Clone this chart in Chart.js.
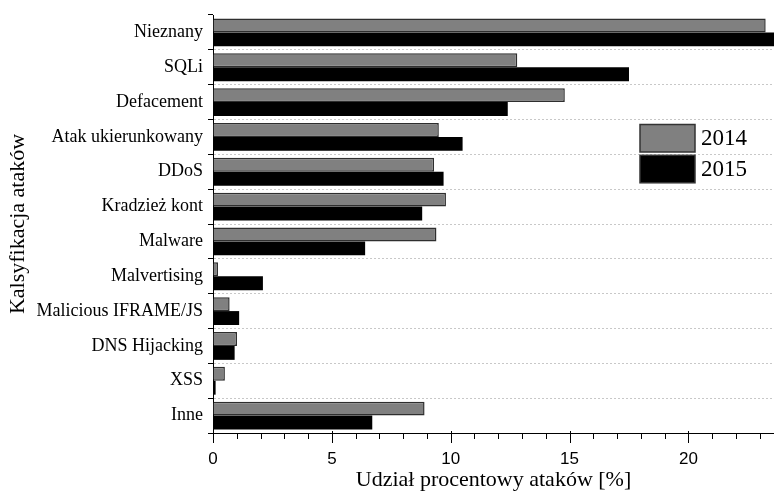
<!DOCTYPE html>
<html>
<head>
<meta charset="utf-8">
<script src="https://cdn.jsdelivr.net/npm/chart.js@4/dist/chart.umd.min.js"></script>
<style>
  html, body { margin: 0; padding: 0; background: #fff; }
  #wrap { width: 774px; height: 493px; position: relative; }
</style>
</head>
<body>
<div id="wrap"><canvas id="c" width="774" height="493"></canvas></div>
<script>
// Attack classes and their share of all attacks [%] in two years
const categories = [
  'Nieznany', 'SQLi', 'Defacement', 'Atak ukierunkowany', 'DDoS',
  'Kradzież kont', 'Malware', 'Malvertising', 'Malicious IFRAME/JS',
  'DNS Hijacking', 'XSS', 'Inne'
];
const share2014 = [23.25, 12.8, 14.8, 9.5, 9.3, 9.8, 9.4, 0.21, 0.7, 1.01, 0.5, 8.9];
const share2015 = [23.8, 17.5, 12.4, 10.5, 9.7, 8.8, 6.4, 2.1, 1.1, 0.91, 0.11, 6.7];
const seriesLabels = ['2014', '2015'];
const xTickLabels = [0, 5, 10, 15, 20];
const xMax = 23.6;

const SERIF = '"Liberation Serif", "Times New Roman", serif';
const SANS = '"Liberation Sans", Arial, sans-serif';

// Major/minor tick marks on the value axis
const valueAxisTicks = {
  id: 'valueAxisTicks',
  afterDraw(chart) {
    const s = chart.scales.x;
    const ctx = chart.ctx;
    ctx.save();
    ctx.strokeStyle = '#000';
    ctx.lineWidth = 1;
    ctx.beginPath();
    for (let v = 0; v <= Math.floor(s.max); v++) {
      const x = Math.round(s.getPixelForValue(v)) + 0.5;
      const major = xTickLabels.includes(v);
      ctx.moveTo(x, s.top - (major ? 2 : 0));
      ctx.lineTo(x, s.top + (major ? 10 : 6));
    }
    ctx.stroke();
    ctx.restore();
  }
};

// Boxed legend inside the plot area
const boxLegend = {
  id: 'boxLegend',
  afterDatasetsDraw(chart) {
    const ctx = chart.ctx;
    ctx.save();
    chart.data.datasets.forEach((ds, i) => {
      const x = 640, y = 124.5 + i * 30.8, w = 55, h = 27.5;
      ctx.fillStyle = ds.backgroundColor;
      ctx.fillRect(x, y, w, h);
      ctx.strokeStyle = '#333';
      ctx.lineWidth = 1.5;
      ctx.strokeRect(x, y, w, h);
      ctx.fillStyle = '#000';
      ctx.font = '23px ' + SERIF;
      ctx.textAlign = 'left';
      ctx.textBaseline = 'middle';
      ctx.fillText(ds.label, x + 61, y + h / 2 + 1);
    });
    ctx.restore();
  }
};

new Chart(document.getElementById('c'), {
  type: 'bar',
  data: {
    labels: categories,
    datasets: [
      {
        label: seriesLabels[0],
        data: share2014,
        backgroundColor: '#808080',
        borderColor: '#2e2e2e',
        borderWidth: 1.5,
        categoryPercentage: 0.8,
        barPercentage: 1.0
      },
      {
        label: seriesLabels[1],
        data: share2015,
        backgroundColor: '#000000',
        borderColor: '#000000',
        borderWidth: 0,
        categoryPercentage: 0.8,
        barPercentage: 1.0
      }
    ]
  },
  options: {
    indexAxis: 'y',
    responsive: false,
    animation: false,
    devicePixelRatio: 1,
    layout: { padding: { top: 15, right: 0, left: 0, bottom: 0 } },
    plugins: {
      legend: { display: false },
      tooltip: { enabled: false }
    },
    scales: {
      x: {
        type: 'linear',
        min: 0,
        max: xMax,
        afterFit(scale) {
          scale.height = 60;
          scale.paddingLeft = 0;
          scale.paddingRight = 0;
        },
        grid: { display: true, drawOnChartArea: false, drawTicks: false },
        border: { display: true, color: '#000', width: 1 },
        ticks: {
          stepSize: 1,
          autoSkip: false,
          maxRotation: 0,
          padding: 16,
          color: '#000',
          font: { family: SANS, size: 17 },
          callback: (v) => xTickLabels.includes(v) ? String(v) : ''
        },
        title: {
          display: true,
          text: 'Udział procentowy ataków [%]',
          color: '#000',
          font: { family: SERIF, size: 22 },
          padding: { top: 0, bottom: 0 }
        }
      },
      y: {
        type: 'category',
        offset: true,
        afterFit(scale) {
          scale.width = 213;
          scale.paddingTop = 0;
          scale.paddingBottom = 0;
        },
        grid: {
          display: true,
          offset: true,
          drawOnChartArea: true,
          drawTicks: true,
          tickLength: 5,
          tickColor: '#000',
          tickWidth: 1,
          lineWidth: 1,
          color: (ctx) => (ctx.index === 0 || ctx.index >= categories.length) ? 'rgba(0,0,0,0)' : '#c8c8c8'
        },
        border: { display: true, color: '#000', width: 1, dash: [2, 2] },
        ticks: {
          padding: 5,
          color: '#000',
          font: { family: SERIF, size: 18 }
        },
        title: {
          display: true,
          text: 'Kalsyfikacja ataków',
          color: '#000',
          font: { family: SERIF, size: 22 },
          padding: { top: 5, bottom: 0 }
        }
      }
    }
  },
  plugins: [valueAxisTicks, boxLegend]
});
</script>
</body>
</html>
